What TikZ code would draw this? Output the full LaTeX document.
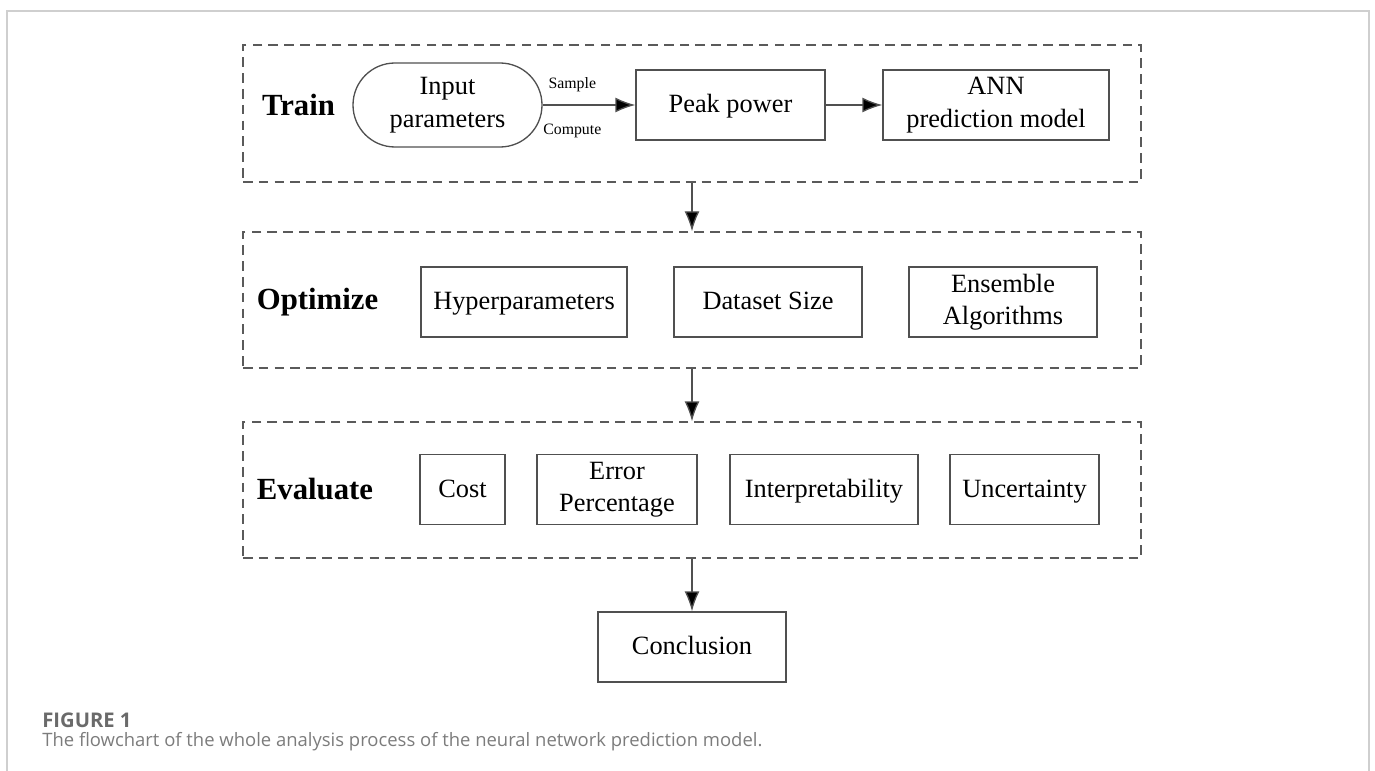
\documentclass[tikz,border=0pt]{standalone}
\usepackage{fontspec}
\setmainfont{Liberation Serif}
\newfontfamily\capfont{Open Sans}
\usetikzlibrary{arrows.meta,positioning}
\definecolor{boxgray}{HTML}{505050}
\definecolor{dashgray}{HTML}{5A5A5A}
\definecolor{framegray}{HTML}{CFCFCF}
\definecolor{capdark}{HTML}{6A6A6A}
\definecolor{caplight}{HTML}{7C7C7C}
\newcommand\rowstrut{\rule[-3pt]{0pt}{15pt}}

\begin{document}
\begin{tikzpicture}[
    >={Latex[length=4mm, width=3mm, fill=black]},
    font=\fontsize{15}{18.5}\selectfont,
    group/.style={draw=dashgray, dashed, dash pattern=on 5.5pt off 3.5pt, line width=0.75pt, inner sep=0pt, minimum width=17.96cm},
    stagebox/.style={draw=boxgray, line width=0.75pt, inner sep=0pt, minimum height=1.4cm, align=center,
        execute at begin node=\rowstrut, execute at end node=\rowstrut},
    startbox/.style={stagebox, rounded corners=0.84cm, minimum height=1.68cm},
    grouplabel/.style={font=\fontsize{17.5}{20}\selectfont\bfseries},
    flow/.style={->, draw=boxgray, line width=0.75pt},
    edgelabel/.style={font=\fontsize{9}{10}\selectfont}
]

% -------- page and frame --------
\def\PW{27.5}
\def\PH{15.42}
\useasboundingbox (0,0) rectangle (\PW,-\PH);
\draw[framegray, line width=0.6pt] (0.14,-\PH) |- (27.38,-0.22) -- (27.38,-\PH);

% ================================================================
% GROUP FRAMES
% ================================================================
\node[group, minimum height=2.74cm] (train) at (13.84,-2.27) {};
\node[group, minimum height=2.72cm] (optim) at (13.84,-6.00) {};
\node[group, minimum height=2.72cm] (evalu) at (13.84,-9.80) {};

% -------- train row --------
\node[grouplabel] (trainlab) at (5.97,-2.10) {Train};
\node[startbox, minimum width=3.78cm] (input) at (8.95,-2.10) {Input\\parameters};
\node[stagebox, minimum width=3.78cm] (peak) at (14.61,-2.10) {Peak power};
\node[stagebox, minimum width=4.52cm] (ann) at (19.92,-2.10) {ANN\\prediction model};

\draw[flow] (input) -- node[edgelabel, pos=0.32, above=4pt] {Sample}
    node[edgelabel, pos=0.32, below=7pt] {Compute} (peak);
\draw[flow] (peak) -- (ann);

% -------- optimize row --------
\node[grouplabel] (optlab) at (6.35,-6.04) {Optimize};
\node[stagebox, minimum width=4.12cm] (hyper) at (10.48,-6.04) {Hyperparameters};
\node[stagebox, minimum width=3.76cm] (dsize) at (15.36,-6.04) {Dataset Size};
\node[stagebox, minimum width=3.76cm] (ensem) at (20.06,-6.04) {Ensemble\\Algorithms};

% -------- evaluate row --------
\node[grouplabel] (evallab) at (6.30,-9.79) {Evaluate};
\node[stagebox, minimum width=1.70cm] (cost) at (9.25,-9.79) {Cost};
\node[stagebox, minimum width=3.20cm] (errpct) at (12.34,-9.79) {Error\\Percentage};
\node[stagebox, minimum width=3.76cm] (interp) at (16.48,-9.79) {Interpretability};
\node[stagebox, minimum width=2.98cm] (uncert) at (20.49,-9.79) {Uncertainty};

% -------- conclusion --------
\node[stagebox, minimum width=3.76cm] (concl) at (13.84,-12.94) {Conclusion};

\draw[flow] (train.south) -- (optim.north);
\draw[flow] (optim.south) -- (evalu.north);
\draw[flow] (evalu.south) -- (concl.north);

% -------- caption --------
\node[anchor=west, inner sep=0pt, font=\capfont\fontsize{11.5}{13}\selectfont\bfseries, text=capdark] (figno) at (0.84,-14.40) {FIGURE 1};
\node[anchor=west, inner sep=0pt, font=\capfont\fontsize{10.5}{12}\selectfont, text=caplight] (figcap) at (0.84,-14.84) {The flowchart of the whole analysis process of the neural network prediction model.};

\end{tikzpicture}
\end{document}
